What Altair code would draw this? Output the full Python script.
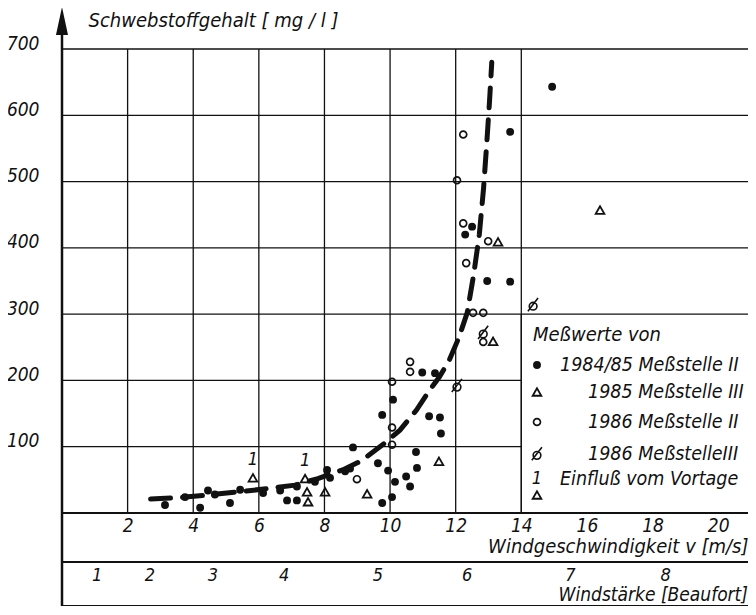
import altair as alt
import pandas as pd

# ---------------- data ----------------
# 1984/85 Meßstelle II (filled dots)
dots_x = [3.14, 3.75, 4.21, 4.45, 4.66, 5.12, 5.43, 6.13, 6.65, 6.86, 7.16, 7.16, 7.71, 8.08,
          8.17, 8.78, 8.87, 8.63, 9.63, 9.94, 10.09, 9.76, 10.98, 11.37, 11.19, 11.52, 11.55,
          10.79, 10.82, 10.15, 10.49, 10.61, 10.06, 9.76, 14.94, 13.66, 12.5, 12.29, 12.96, 13.66]
dots_y = [12, 24, 8, 34, 28, 15, 35, 30, 34, 19, 19, 40, 47, 65,
          53, 67, 99, 63, 75, 64, 171, 148, 212, 211, 146, 144, 120,
          92, 68, 47, 55, 40, 24, 15, 643, 575, 432, 420, 350, 349]

# 1985 Meßstelle III (open triangles)
tri_x = [5.82, 7.41, 7.47, 7.50, 8.02, 9.30, 11.49, 13.14, 13.29, 16.4]
tri_y = [53, 52, 32, 17, 32, 29, 78, 259, 409, 457]
# triangles marked "1" (Einfluß vom Vortage)
vortag_x = [5.82, 7.41]
vortag_y = [53, 52]

# 1986 Meßstelle II (open circles)
circ_x = [8.99, 10.06, 10.61, 10.61, 10.06, 10.06, 12.23, 12.04, 12.23, 12.99, 12.32, 12.53, 12.84, 12.84]
circ_y = [51, 198, 228, 213, 129, 103, 571, 502, 437, 410, 377, 302, 302, 258]

# 1986 Meßstelle III (slashed circles)
slash_x = [12.04, 12.84, 14.36]
slash_y = [192, 272, 314]

# dashed trend curve
curve_x = [2.7, 3.5, 4.4, 5.4, 6.3, 7.1, 7.8, 8.6, 9.1, 9.8, 10.3, 10.8, 11.2, 11.5, 11.8,
           12.1, 12.35, 12.55, 12.72, 12.85, 12.95, 13.03, 13.1]
curve_y = [21, 23, 27, 32, 37, 42, 52, 66, 78, 104, 125, 155, 185, 205, 230,
           265, 302, 360, 420, 490, 560, 620, 680]

# axes
wind_ticks = [2, 4, 6, 8, 10, 12, 14, 16, 18, 20]
conc_ticks = [100, 200, 300, 400, 500, 600, 700]
vgrid = [2, 4, 6, 8, 10, 12, 14]
beaufort_labels = ["1", "2", "3", "4", "5", "6", "7", "8"]
beaufort_pos = [1.07, 2.68, 4.6, 6.77, 9.63, 12.35, 15.5, 18.4]

legend_title = "Meßwerte von"
legend_labels = ["1984/85 Meßstelle II", "1985 Meßstelle III", "1986 Meßstelle II",
                 "1986 MeßstelleIII", "Einfluß vom Vortage"]

# ---------------- layout ----------------
W, H = 686, 464
XMAX = 20.91
F = "DejaVu Sans Condensed"
INK = "#111111"
SLASH = "M-0.7,0.25A0.7,0.7 0 1,1 0.7,0.25A0.7,0.7 0 1,1 -0.7,0.25M-0.95,1.15L0.9,-1.25"
ARROW = "M0,-1L-0.43,1L0.43,1Z"

xs = alt.Scale(domain=[0, XMAX], nice=False, zero=False)
ys = alt.Scale(domain=[0, 700], nice=False)

# gridlines
hgrid = pd.DataFrame({"y": conc_ticks,
                      "x0": [0] * len(conc_ticks),
                      "x1": [14 if v < 300 else XMAX for v in conc_ticks]})
vg = pd.DataFrame({"x": vgrid, "y0": [0] * len(vgrid), "y1": [700] * len(vgrid)})

base = alt.Chart(pd.DataFrame({"x": [0]}))

hg = alt.Chart(hgrid).mark_rule(color=INK, strokeWidth=1.3).encode(
    x=alt.X("x0:Q", scale=xs, axis=alt.Axis(
        values=wind_ticks, grid=False, domain=False, ticks=False,
        labelFont=F, labelFontStyle="italic", labelFontSize=19, labelColor=INK,
        labelPadding=3, labelFlush=False,
        title="Windgeschwindigkeit v [m/s]", titleFont=F, titleFontStyle="italic",
        titleFontSize=20, titleFontWeight="normal", titleColor=INK,
        titleX=W, titleY=39, titleAlign="right", titleBaseline="alphabetic")),
    x2="x1:Q",
    y=alt.Y("y:Q", scale=ys, axis=alt.Axis(
        values=conc_ticks, grid=False, domain=False, ticks=False,
        labelFont=F, labelFontStyle="italic", labelFontSize=19, labelColor=INK,
        labelPadding=23, labelOffset=-6,
        title="Schwebstoffgehalt [ mg / l ]", titleFont=F, titleFontStyle="italic",
        titleFontSize=20, titleFontWeight="normal", titleColor=INK,
        titleAngle=0, titleX=26, titleY=-29, titleAlign="left", titleBaseline="middle")),
)

vgl = alt.Chart(vg).mark_rule(color=INK, strokeWidth=1.3).encode(
    x=alt.X("x:Q", scale=xs), y=alt.Y("y0:Q", scale=ys), y2="y1:Q")

zero_line = base.mark_rule(color=INK, strokeWidth=2).encode(
    x=alt.datum(0, scale=xs), x2=alt.datum(XMAX), y=alt.value(H))
band1 = base.mark_rule(color=INK, strokeWidth=2).encode(
    x=alt.datum(0, scale=xs), x2=alt.datum(XMAX), y=alt.value(H + 49))
band2 = base.mark_rule(color=INK, strokeWidth=2).encode(
    x=alt.datum(0, scale=xs), x2=alt.datum(XMAX), y=alt.value(H + 93))
yline = base.mark_rule(color=INK, strokeWidth=2.5).encode(
    x=alt.datum(0, scale=xs), y=alt.value(-20), y2=alt.value(H + 94))
arrow = base.mark_point(shape=ARROW, size=784, filled=True, color=INK, opacity=1).encode(
    x=alt.datum(0, scale=xs), y=alt.value(-28))

# trend curve
curve = alt.Chart(pd.DataFrame({"x": curve_x, "y": curve_y})).mark_line(
    color=INK, strokeWidth=5, strokeDash=[20, 12], strokeCap="round").encode(
    x=alt.X("x:Q", scale=xs), y=alt.Y("y:Q", scale=ys), order="x:Q")

dots = alt.Chart(pd.DataFrame({"x": dots_x, "y": dots_y})).mark_circle(
    size=62, color=INK, opacity=1).encode(x=alt.X("x:Q", scale=xs), y=alt.Y("y:Q", scale=ys))
tris = alt.Chart(pd.DataFrame({"x": tri_x, "y": tri_y})).mark_point(
    shape="triangle-up", size=75, filled=False, color=INK, strokeWidth=1.8, opacity=1).encode(
    x=alt.X("x:Q", scale=xs), y=alt.Y("y:Q", scale=ys))
circs = alt.Chart(pd.DataFrame({"x": circ_x, "y": circ_y})).mark_point(
    shape="circle", size=48, filled=False, color=INK, strokeWidth=1.7, opacity=1).encode(
    x=alt.X("x:Q", scale=xs), y=alt.Y("y:Q", scale=ys))
slashes = alt.Chart(pd.DataFrame({"x": slash_x, "y": slash_y})).mark_point(
    shape=SLASH, size=120, filled=False, color=INK, strokeWidth=1.6, opacity=1).encode(
    x=alt.X("x:Q", scale=xs), y=alt.Y("y:Q", scale=ys))
ones = alt.Chart(pd.DataFrame({"x": vortag_x, "y": vortag_y, "t": ["1"] * len(vortag_x)})).mark_text(
    font=F, fontStyle="italic", fontSize=18, color=INK, dy=-18).encode(
    x=alt.X("x:Q", scale=xs), y=alt.Y("y:Q", scale=ys), text="t:N")

# Beaufort band
bft = alt.Chart(pd.DataFrame({"x": beaufort_pos, "t": beaufort_labels})).mark_text(
    font=F, fontStyle="italic", fontSize=18, color=INK, baseline="middle").encode(
    x=alt.X("x:Q", scale=xs), y=alt.value(H + 63), text="t:N")
bft_title = base.mark_text(font=F, fontStyle="italic", fontSize=19, color=INK,
                           align="right", baseline="alphabetic").encode(
    x=alt.value(W), y=alt.value(H + 88), text=alt.value("Windstärke [Beaufort]"))

# legend box contents
LF = 19.5
leg_head = base.mark_text(font=F, fontStyle="italic", fontSize=20, color=INK,
                          align="left", baseline="middle").encode(
    x=alt.value(471), y=alt.value(286), text=alt.value(legend_title))
row_y = [316, 343, 373, 405, 430]
row_x = [498, 526, 526, 526, 498]
leg_txt = alt.Chart(pd.DataFrame({"t": legend_labels, "px": row_x, "py": row_y})).mark_text(
    font=F, fontStyle="italic", fontSize=LF, color=INK, align="left", baseline="middle").encode(
    x=alt.X("px:Q", scale=None), y=alt.Y("py:Q", scale=None), text="t:N")
SX = 475
leg_dot = base.mark_circle(size=62, color=INK, opacity=1).encode(x=alt.value(SX), y=alt.value(row_y[0]))
leg_tri = base.mark_point(shape="triangle-up", size=75, filled=False, color=INK,
                          strokeWidth=1.8, opacity=1).encode(x=alt.value(SX), y=alt.value(row_y[1]))
leg_circ = base.mark_point(shape="circle", size=48, filled=False, color=INK,
                           strokeWidth=1.7, opacity=1).encode(x=alt.value(SX), y=alt.value(row_y[2]))
leg_sl = base.mark_point(shape=SLASH, size=120, filled=False, color=INK,
                         strokeWidth=1.6, opacity=1).encode(x=alt.value(SX), y=alt.value(row_y[3]))
leg_one = base.mark_text(font=F, fontStyle="italic", fontSize=18, color=INK, baseline="middle").encode(
    x=alt.value(SX), y=alt.value(row_y[4]), text=alt.value("1"))
leg_tri2 = base.mark_point(shape="triangle-up", size=75, filled=False, color=INK,
                           strokeWidth=1.8, opacity=1).encode(x=alt.value(SX), y=alt.value(446))
leg_vline = base.mark_rule(color=INK, strokeWidth=1.3).encode(
    x=alt.datum(14, scale=xs), y=alt.datum(0, scale=ys), y2=alt.datum(300))

chart = alt.layer(
    hg, vgl, leg_vline, zero_line, band1, band2, yline, arrow,
    curve, dots, tris, circs, slashes, ones,
    bft, bft_title, leg_head, leg_txt, leg_dot, leg_tri, leg_circ, leg_sl, leg_one, leg_tri2,
).properties(
    width=W, height=H,
    autosize=alt.AutoSizeParams(type="none"),
    padding={"left": 54, "top": 41, "right": 0, "bottom": 93},
    background="white",
).configure_view(stroke=None)

chart.save("out.html", embed_options={"renderer": "svg", "actions": False})
